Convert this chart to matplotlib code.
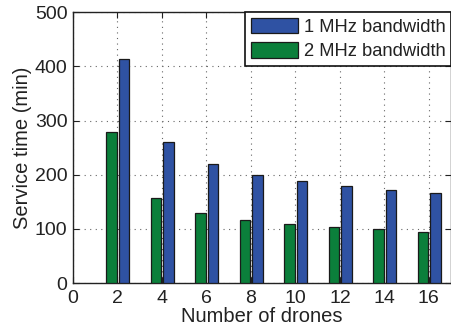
import matplotlib
matplotlib.use("Agg")
import matplotlib.pyplot as plt
import numpy as np

plt.rcParams['font.family'] = ['Liberation Sans', 'DejaVu Sans']

drones = [2, 4, 6, 8, 10, 12, 14, 16]
bw1_mhz = [413, 261, 220, 200, 188, 179, 172, 167]
bw2_mhz = [278, 157, 130, 117, 109, 103, 99, 95]
xticks = [0, 2, 4, 6, 8, 10, 12, 14, 16]
yticks = [0, 100, 200, 300, 400, 500]

fig = plt.figure(figsize=(4.52, 3.28), dpi=100)
ax = fig.add_axes([0.1615, 0.137, 0.8365, 0.826])

x = np.array(drones, dtype=float)
w = 0.48
ax.bar(x + 0.30, bw1_mhz, width=w, color='#2F52A3', edgecolor='#1a1a1a',
       linewidth=0.9, label='1 MHz bandwidth', zorder=3)
ax.bar(x - 0.27, bw2_mhz, width=w, color='#0B7F3B', edgecolor='#1a1a1a',
       linewidth=0.9, label='2 MHz bandwidth', zorder=3)

ax.set_xlim(0, 17)
ax.set_ylim(0, 500)
ax.set_xticks(xticks)
ax.set_yticks(yticks)
ax.tick_params(direction='in', top=True, right=True, labelsize=14, length=4,
               width=0.8, colors='#222222')
ax.tick_params(axis='x', pad=5)
ax.tick_params(axis='y', pad=4)
for s in ax.spines.values():
    s.set_linewidth(1.0)
    s.set_color('#222222')
ax.grid(True, linestyle=(0, (1, 4)), color='#666666', linewidth=0.8, zorder=0)
ax.set_axisbelow(True)

ax.set_xlabel('Number of drones', fontsize=14.5, labelpad=0, color='#222222')
ax.set_ylabel('Service time (min)', fontsize=14.5, labelpad=2, color='#222222')

leg = ax.legend(loc='upper right', fontsize=13.2, frameon=True, fancybox=False,
                borderaxespad=0, borderpad=0.3, handlelength=2.6,
                handleheight=0.95, handletextpad=0.3, labelspacing=0.35)
leg.get_frame().set_edgecolor('#111111')
leg.get_frame().set_linewidth(1.2)
leg.get_frame().set_alpha(1)
for t in leg.get_texts():
    t.set_color('#222222')

fig.savefig('out.png', dpi=100)
